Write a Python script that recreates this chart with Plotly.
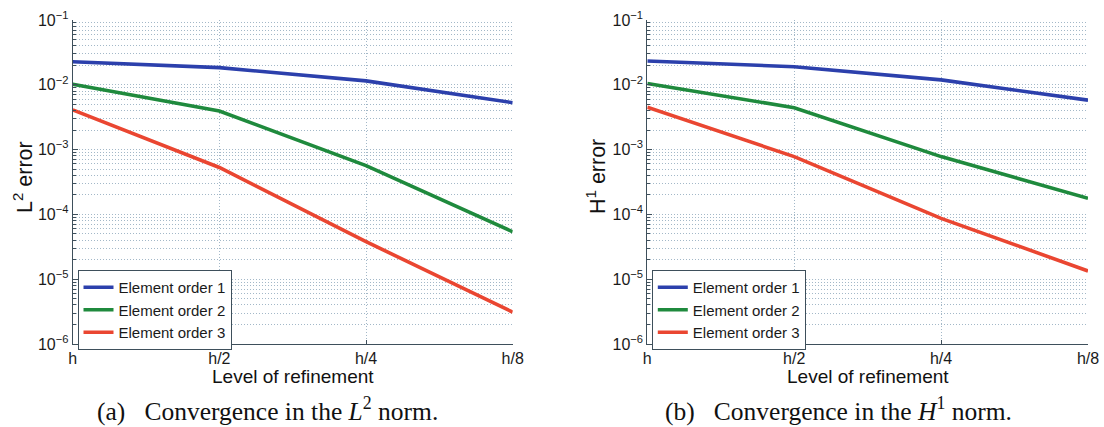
import plotly.graph_objects as go

# ---------------- data ----------------
levels = ["h", "h/2", "h/4", "h/8"]
series_names = ["Element order 1", "Element order 2", "Element order 3"]

l2_order1 = [0.0227, 0.0184, 0.0115, 0.0053]
l2_order2 = [0.0102, 0.00394, 5.65e-4, 5.4e-5]
l2_order3 = [0.0041, 5.3e-4, 3.8e-5, 3.1e-6]

h1_order1 = [0.0233, 0.0190, 0.0119, 0.0058]
h1_order2 = [0.0105, 0.00443, 7.8e-4, 1.77e-4]
h1_order3 = [0.0045, 7.8e-4, 8.7e-5, 1.34e-5]

ytick_vals = [1e-6, 1e-5, 1e-4, 1e-3, 1e-2, 1e-1]
ytick_text = ["10<sup>\u22126</sup>", "10<sup>\u22125</sup>", "10<sup>\u22124</sup>",
              "10<sup>\u22123</sup>", "10<sup>\u22122</sup>", "10<sup>\u22121</sup>"]

colors = ["#2c40ac", "#1f8a3d", "#ea4631"]
FONT = "Liberation Sans, Arial, sans-serif"
AX = "#3e4f5b"
GRID = "#a3b8c8"

fig = go.Figure()

panels = [
    ("x", "y", "legend", [l2_order1, l2_order2, l2_order3]),
    ("x2", "y2", "legend2", [h1_order1, h1_order2, h1_order3]),
]
for xa, ya, lg, data in panels:
    for name, vals, c in zip(series_names, data, colors):
        fig.add_trace(go.Scatter(
            x=levels, y=vals, mode="lines", name=name,
            line=dict(color=c, width=3.6),
            xaxis=xa, yaxis=ya, legend=lg, showlegend=True,
        ))

W, H = 1104, 427
def px_x(p):
    return p / W
def px_y(p):
    return (H - p) / H

ydom = [px_y(344), px_y(20)]
xdom1 = [px_x(72.7), px_x(512.7)]
xdom2 = [px_x(647.3), px_x(1088)]

def xaxis_cfg(dom, anchor):
    return dict(
        domain=dom, anchor=anchor, type="category", automargin=False,
        categoryorder="array", categoryarray=levels,
        range=[0, 3], showline=True, linecolor=AX, linewidth=1,
        ticks="inside", ticklen=4, tickcolor=AX,
        tickfont=dict(family=FONT, size=16, color="#1a1a1a"),
        showgrid=True, gridcolor=GRID, griddash="1px,2px", gridwidth=1,
        zeroline=False, mirror=False,
    )

def yaxis_cfg(anchor):
    return dict(
        domain=ydom, anchor=anchor, type="log", range=[-6, -1], automargin=False,
        tickvals=ytick_vals, ticktext=ytick_text,
        showline=True, linecolor=AX, linewidth=1,
        ticks="inside", ticklen=5, tickcolor=AX,
        tickfont=dict(family=FONT, size=16, color="#1a1a1a"),
        showgrid=True, gridcolor=GRID, griddash="1px,2px", gridwidth=1,
        minor=dict(dtick="D1", ticks="inside", ticklen=3, tickcolor=AX,
                   showgrid=True, gridcolor=GRID, griddash="1px,2px", gridwidth=1),
        zeroline=False, mirror=False,
    )

legend_common = dict(
    xanchor="left", yanchor="top", xref="paper", yref="paper",
    bgcolor="white", bordercolor=AX, borderwidth=1,
    font=dict(family=FONT, size=15, color="#1a1a1a"),
    tracegroupgap=0, itemwidth=30,
)

annotations = []
for cx, axis_x, ytitle, cap, capx in [
    ((72.7 + 512.7) / 2, 23, "L<sup>2</sup> error",
     "(a)\u00a0\u00a0 Convergence in the <i>L</i><sup>2</sup> norm.", 267),
    ((647.3 + 1088) / 2, 596, "H<sup>1</sup> error",
     "(b)\u00a0\u00a0 Convergence in the <i>H</i><sup>1</sup> norm.", 838),
]:
    annotations.append(dict(text="Level of refinement", x=px_x(cx), y=px_y(376),
                            xref="paper", yref="paper", xanchor="center", yanchor="middle",
                            showarrow=False, font=dict(family=FONT, size=19, color="#111111")))
    annotations.append(dict(text=ytitle, x=px_x(axis_x), y=px_y(177), textangle=-90,
                            xref="paper", yref="paper", xanchor="center", yanchor="middle",
                            showarrow=False, font=dict(family=FONT, size=21.5, color="#111111")))
    annotations.append(dict(text=cap, x=px_x(capx), y=px_y(409),
                            xref="paper", yref="paper", xanchor="center", yanchor="middle",
                            showarrow=False,
                            font=dict(family="Liberation Serif, Times New Roman, serif",
                                      size=25.5, color="#111111")))

fig.update_layout(
    template="none",
    width=W, height=H, margin=dict(l=0, r=0, t=0, b=0, autoexpand=False),
    paper_bgcolor="white", plot_bgcolor="white",
    xaxis=xaxis_cfg(xdom1, "y"),
    yaxis=yaxis_cfg("x"),
    xaxis2=xaxis_cfg(xdom2, "y2"),
    yaxis2=yaxis_cfg("x2"),
    legend=dict(x=px_x(77.5), y=px_y(270), **legend_common),
    legend2=dict(x=px_x(651.8), y=px_y(270), **legend_common),
    annotations=annotations,
    showlegend=True,
)

fig.write_html("out.html", config={"displayModeBar": False},
               post_script="document.body.style.margin='0px';document.body.style.overflow='hidden';")
